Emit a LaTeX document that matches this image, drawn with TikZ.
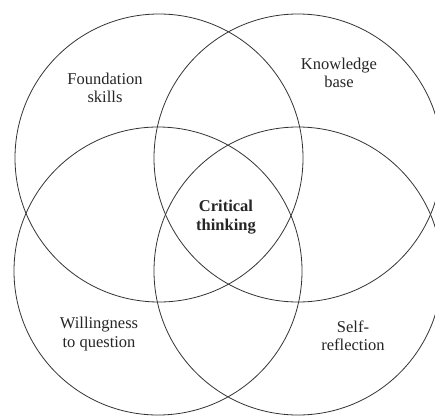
\documentclass[tikz,border=0pt]{standalone}
\usepackage{fontspec}
\setmainfont{Liberation Serif}
\begin{document}
\begin{tikzpicture}[x=1pt,y=-1pt,
  ring/.style={draw=black!80,line width=0.8pt,circle,minimum size=288pt,inner sep=0pt},
  lbl/.style={align=center,font=\fontsize{16.5}{18.5}\selectfont,text=black!85,inner sep=0pt}]
\useasboundingbox (0,0) rectangle (435,417);
\clip (0,0) rectangle (435,417);
\fill[white] (0,0) rectangle (435,417);
\node[ring] (c1) at (159,158) {};
\node[ring] (c2) at (298,158) {};
\node[ring] (c3) at (158,271) {};
\node[ring] (c4) at (298,271) {};
\node[lbl] (t1) at (105,88) {Foundation\\skills};
\node[lbl] (t2) at (339,73) {Knowledge\\base};
\node[lbl,font=\fontsize{16.5}{18.5}\selectfont\bfseries] (t0) at (226,217) {Critical\\thinking};
\node[lbl] (t3) at (99,334) {Willingness\\to question};
\node[lbl] (t4) at (353,336) {Self-\\reflection};
\end{tikzpicture}
\end{document}
